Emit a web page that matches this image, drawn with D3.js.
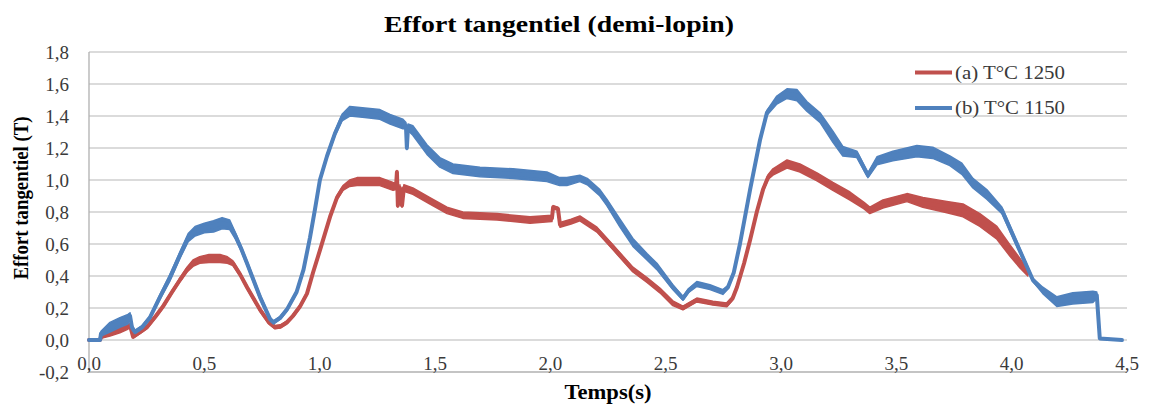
<!DOCTYPE html>
<html>
<head>
<meta charset="utf-8">
<script src="https://cdn.jsdelivr.net/npm/d3@7"></script>
<style>
  html, body { margin: 0; padding: 0; background: #ffffff; }
  svg { display: block; }
  text { font-family: "Liberation Serif", "Times New Roman", serif; }
</style>
</head>
<body>
<svg id="chart" width="1150" height="412"></svg>
<script>
// ---------- data ----------
const chartTitle = "Effort tangentiel (demi-lopin)";
const xAxisTitle = "Temps(s)";
const yAxisTitle = "Effort tangentiel (T)";
const seriesNames = ["(a) T°C 1250", "(b) T°C 1150"];

const xTicks = [0, 0.5, 1.0, 1.5, 2.0, 2.5, 3.0, 3.5, 4.0, 4.5];
const yTicks = [-0.2, 0, 0.2, 0.4, 0.6, 0.8, 1.0, 1.2, 1.4, 1.6, 1.8];

// (a) T°C 1250  (red): time (s), effort (T), half-width of the noise band (T)
const timeA = [0, 0.048, 0.052, 0.091, 0.134, 0.165, 0.178, 0.191, 0.221, 0.251,
  0.290, 0.321, 0.360, 0.394, 0.425, 0.451, 0.480, 0.520, 0.568, 0.600,
  0.624, 0.655, 0.685, 0.741, 0.780, 0.806, 0.830, 0.858, 0.884, 0.915,
  0.945, 0.971, 1.001, 1.045, 1.075, 1.101, 1.130, 1.162, 1.261, 1.318,
  1.331, 1.335, 1.339, 1.348, 1.357, 1.365, 1.404, 1.478, 1.552, 1.621,
  1.769, 1.912, 2.007, 2.012, 2.033, 2.042, 2.090, 2.128, 2.202, 2.271,
  2.358, 2.419, 2.475, 2.531, 2.575, 2.635, 2.705, 2.765, 2.790, 2.809,
  2.840, 2.866, 2.895, 2.922, 2.945, 2.965, 3.026, 3.082, 3.156, 3.225,
  3.299, 3.360, 3.385, 3.442, 3.546, 3.615, 3.719, 3.789, 3.862, 3.936,
  3.992, 4.036, 4.070];
const valueA = [0, 0, 0.02, 0.04, 0.06, 0.08, 0.09, 0.02, 0.05, 0.08,
  0.15, 0.21, 0.30, 0.375, 0.44, 0.48, 0.50, 0.51, 0.51, 0.50,
  0.48, 0.41, 0.33, 0.19, 0.11, 0.08, 0.085, 0.11, 0.15, 0.21,
  0.29, 0.42, 0.56, 0.77, 0.89, 0.95, 0.98, 0.99, 0.99, 0.96,
  0.96, 1.05, 0.84, 0.95, 0.84, 0.95, 0.93, 0.87, 0.81, 0.78,
  0.77, 0.75, 0.76, 0.83, 0.82, 0.72, 0.74, 0.76, 0.69, 0.58,
  0.44, 0.375, 0.31, 0.23, 0.20, 0.25, 0.23, 0.22, 0.26, 0.33,
  0.48, 0.625, 0.80, 0.94, 1.02, 1.05, 1.10, 1.075, 1.02, 0.96,
  0.90, 0.84, 0.81, 0.85, 0.89, 0.86, 0.83, 0.81, 0.75, 0.67,
  0.56, 0.48, 0.42];
const noiseA = [0, 0, 0.01, 0.015, 0.015, 0.015, 0.012, 0.008, 0.01, 0.01,
  0.01, 0.01, 0.01, 0.012, 0.015, 0.02, 0.02, 0.025, 0.025, 0.02,
  0.015, 0.01, 0.01, 0.01, 0.01, 0.01, 0.01, 0.01, 0.01, 0.01,
  0.01, 0.01, 0.01, 0.01, 0.012, 0.015, 0.02, 0.025, 0.025, 0.025,
  0.02, 0.01, 0.01, 0.02, 0.01, 0.02, 0.02, 0.02, 0.02, 0.02,
  0.02, 0.02, 0.02, 0.01, 0.01, 0.015, 0.015, 0.015, 0.015, 0.015,
  0.015, 0.015, 0.015, 0.015, 0.012, 0.012, 0.012, 0.012, 0.01, 0.01,
  0.01, 0.01, 0.01, 0.012, 0.015, 0.02, 0.025, 0.025, 0.025, 0.025,
  0.025, 0.02, 0.02, 0.025, 0.025, 0.03, 0.035, 0.04, 0.04, 0.04,
  0.035, 0.03, 0.02];

// (b) T°C 1150  (blue)
const timeB = [0, 0.048, 0.052, 0.091, 0.134, 0.169, 0.178, 0.186, 0.199, 0.230,
  0.264, 0.308, 0.351, 0.394, 0.430, 0.460, 0.500, 0.540, 0.577, 0.610,
  0.635, 0.660, 0.685, 0.741, 0.785, 0.800, 0.830, 0.858, 0.900, 0.930,
  0.958, 0.980, 1.001, 1.032, 1.066, 1.097, 1.131, 1.196, 1.261, 1.305,
  1.361, 1.374, 1.378, 1.383, 1.404, 1.465, 1.521, 1.578, 1.695, 1.838,
  1.985, 2.040, 2.072, 2.128, 2.160, 2.215, 2.245, 2.302, 2.358, 2.419,
  2.462, 2.531, 2.575, 2.600, 2.635, 2.692, 2.748, 2.770, 2.795, 2.822,
  2.866, 2.909, 2.939, 2.982, 3.026, 3.069, 3.112, 3.169, 3.225, 3.268,
  3.329, 3.377, 3.416, 3.485, 3.589, 3.658, 3.732, 3.784, 3.832, 3.892,
  3.958, 4.092, 4.135, 4.196, 4.265, 4.352, 4.369, 4.382, 4.478];
const valueB = [0, 0, 0.04, 0.08, 0.11, 0.13, 0.15, 0.08, 0.05, 0.08,
  0.14, 0.27, 0.39, 0.53, 0.64, 0.68, 0.70, 0.71, 0.73, 0.72,
  0.65, 0.57, 0.48, 0.27, 0.13, 0.11, 0.14, 0.19, 0.30, 0.44,
  0.64, 0.82, 1.00, 1.15, 1.29, 1.39, 1.43, 1.42, 1.41, 1.38,
  1.35, 1.34, 1.20, 1.33, 1.31, 1.19, 1.11, 1.07, 1.05, 1.04,
  1.02, 0.99, 0.99, 1.01, 0.99, 0.92, 0.86, 0.73, 0.61, 0.52,
  0.46, 0.33, 0.26, 0.31, 0.35, 0.33, 0.30, 0.33, 0.42, 0.60,
  0.94, 1.25, 1.42, 1.50, 1.54, 1.53, 1.46, 1.39, 1.27, 1.18,
  1.16, 1.03, 1.12, 1.15, 1.18, 1.17, 1.12, 1.07, 0.98, 0.91,
  0.81, 0.375, 0.31, 0.24, 0.26, 0.27, 0.28, 0.01, 0];
const noiseB = [0, 0, 0.015, 0.03, 0.03, 0.03, 0.02, 0.015, 0.01, 0.01,
  0.01, 0.015, 0.02, 0.02, 0.025, 0.03, 0.03, 0.035, 0.035, 0.03,
  0.02, 0.015, 0.015, 0.015, 0.01, 0.01, 0.01, 0.01, 0.01, 0.01,
  0.01, 0.01, 0.01, 0.012, 0.015, 0.02, 0.03, 0.03, 0.03, 0.03,
  0.03, 0.02, 0.01, 0.02, 0.03, 0.03, 0.03, 0.03, 0.03, 0.03,
  0.03, 0.025, 0.025, 0.02, 0.02, 0.02, 0.02, 0.025, 0.025, 0.02,
  0.02, 0.015, 0.012, 0.012, 0.015, 0.015, 0.015, 0.01, 0.01, 0.01,
  0.01, 0.01, 0.015, 0.025, 0.03, 0.035, 0.03, 0.03, 0.035, 0.03,
  0.02, 0.015, 0.025, 0.03, 0.035, 0.035, 0.03, 0.035, 0.03, 0.03,
  0.02, 0.01, 0.02, 0.03, 0.035, 0.035, 0.02, 0.005, 0];

const colors = ["#C0504D", "#4F81BD"];

// ---------- layout ----------
const svg = d3.select("#chart");
const plot = { left: 89, right: 1127, top: 52, bottom: 372 };

const x = d3.scaleLinear().domain([0, 4.5]).range([plot.left, plot.right]);
const y = d3.scaleLinear().domain([-0.2, 1.8]).range([plot.bottom, plot.top]);
const fmt = v => d3.format(".1f")(v).replace(".", ",").replace("\u2212", "-");

// gridlines
svg.append("g")
  .selectAll("line")
  .data(yTicks.filter(v => v > -0.2))
  .join("line")
  .attr("x1", plot.left).attr("x2", plot.right)
  .attr("y1", d => y(d)).attr("y2", d => y(d))
  .attr("stroke", "#b8b8b8").attr("stroke-width", 1.2);

// axis lines
svg.append("line")
  .attr("x1", plot.left).attr("x2", plot.right)
  .attr("y1", y(-0.2)).attr("y2", y(-0.2))
  .attr("stroke", "#b0b0b0").attr("stroke-width", 1.3);
svg.append("line")
  .attr("x1", plot.left).attr("x2", plot.left)
  .attr("y1", y(1.8)).attr("y2", y(-0.2))
  .attr("stroke", "#b0b0b0").attr("stroke-width", 1.3);

// y tick labels
svg.append("g")
  .selectAll("text")
  .data(yTicks)
  .join("text")
  .attr("x", 69)
  .attr("y", d => y(d) + 6.5)
  .attr("text-anchor", "end")
  .attr("font-size", 19)
  .attr("fill", "#3a3a3a")
  .text(fmt);

// x tick labels
svg.append("g")
  .selectAll("text")
  .data(xTicks)
  .join("text")
  .attr("x", d => x(d))
  .attr("y", 370)
  .attr("text-anchor", "middle")
  .attr("font-size", 19)
  .attr("fill", "#3a3a3a")
  .text(fmt);

// series: noise band (area) + centre line
const seriesData = [
  d3.range(timeA.length).map(i => ({ t: timeA[i], v: valueA[i], n: noiseA[i] })),
  d3.range(timeB.length).map(i => ({ t: timeB[i], v: valueB[i], n: noiseB[i] }))
];
const band = d3.area()
  .x(d => x(d.t))
  .y0(d => y(d.v - d.n))
  .y1(d => y(d.v + d.n));
const line = d3.line().x(d => x(d.t)).y(d => y(d.v));

const series = svg.append("g")
  .selectAll("g")
  .data(seriesData)
  .join("g");
series.append("path")
  .attr("d", band)
  .attr("fill", (d, i) => colors[i])
  .attr("stroke", (d, i) => colors[i])
  .attr("stroke-width", 1.5)
  .attr("stroke-linejoin", "round");
series.append("path")
  .attr("d", line)
  .attr("fill", "none")
  .attr("stroke", (d, i) => colors[i])
  .attr("stroke-width", 4)
  .attr("stroke-linejoin", "round")
  .attr("stroke-linecap", "round");

// title
svg.append("text")
  .attr("x", 559).attr("y", 32)
  .attr("text-anchor", "middle")
  .attr("font-size", 24).attr("font-weight", "bold")
  .attr("fill", "#000")
  .attr("textLength", 350).attr("lengthAdjust", "spacingAndGlyphs")
  .text(chartTitle);

// x axis title
svg.append("text")
  .attr("x", 608).attr("y", 399)
  .attr("text-anchor", "middle")
  .attr("font-size", 20).attr("font-weight", "bold")
  .attr("fill", "#000")
  .attr("textLength", 87).attr("lengthAdjust", "spacingAndGlyphs")
  .text(xAxisTitle);

// y axis title
svg.append("text")
  .attr("transform", "translate(28,198) rotate(-90)")
  .attr("text-anchor", "middle")
  .attr("font-size", 21).attr("font-weight", "bold")
  .attr("fill", "#000")
  .attr("textLength", 163).attr("lengthAdjust", "spacingAndGlyphs")
  .text(yAxisTitle);

// legend
const legend = svg.append("g")
  .selectAll("g")
  .data(seriesNames)
  .join("g")
  .attr("transform", (d, i) => `translate(0, ${72.5 + i * 35.5})`);
legend.append("line")
  .attr("x1", 915).attr("x2", 952)
  .attr("y1", 0).attr("y2", 0)
  .attr("stroke", (d, i) => colors[i])
  .attr("stroke-width", 4);
legend.append("text")
  .attr("x", 955).attr("y", 6)
  .attr("font-size", 19)
  .attr("fill", "#3a3a3a")
  .attr("textLength", 110).attr("lengthAdjust", "spacingAndGlyphs")
  .text(d => d);
</script>
</body>
</html>
